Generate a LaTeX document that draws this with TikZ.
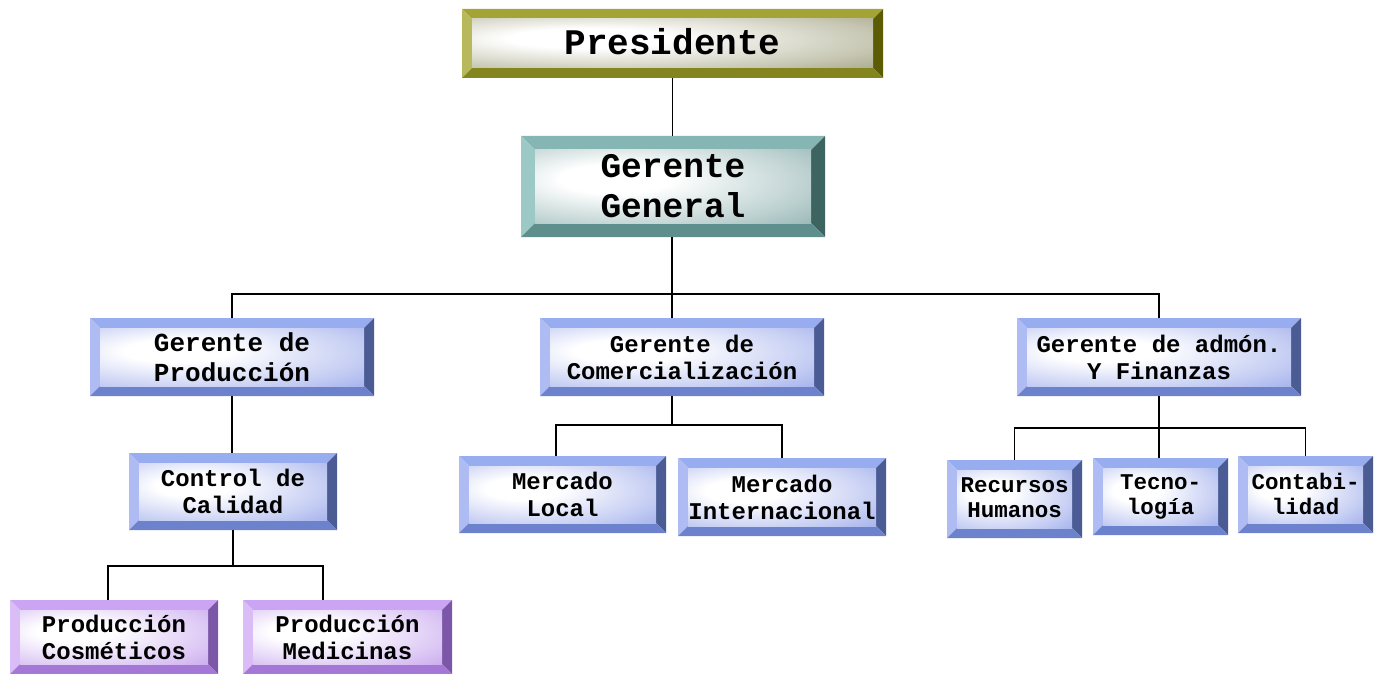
\documentclass[tikz,border=0pt]{standalone}
\usepackage{fontspec}
\setmonofont{Liberation Mono}
\usetikzlibrary{backgrounds}

% bevel colour families: T top, L left, R right, B bottom, G glow edge
\definecolor{oliveT}{HTML}{A3A336}
\definecolor{oliveL}{HTML}{B8B85C}
\definecolor{oliveR}{HTML}{5C5C05}
\definecolor{oliveB}{HTML}{85851F}
\definecolor{oliveG}{HTML}{85855A}
\definecolor{tealT}{HTML}{86B6B4}
\definecolor{tealL}{HTML}{9CC8C6}
\definecolor{tealR}{HTML}{3E6462}
\definecolor{tealB}{HTML}{5F8F8D}
\definecolor{tealG}{HTML}{6A9896}
\definecolor{blueT}{HTML}{98ACF0}
\definecolor{blueL}{HTML}{AEBCF3}
\definecolor{blueR}{HTML}{4B5B93}
\definecolor{blueB}{HTML}{6C82CC}
\definecolor{blueG}{HTML}{7D90E4}
\definecolor{lilaT}{HTML}{CBA5F3}
\definecolor{lilaL}{HTML}{DABDF6}
\definecolor{lilaR}{HTML}{7C57A8}
\definecolor{lilaB}{HTML}{A578D8}
\definecolor{lilaG}{HTML}{B386E8}
\colorlet{gc}{blueG}

\pgfdeclareradialshading[gc]{glow}{\pgfpoint{-12bp}{6bp}}{%
  color(0bp)=(white); color(10bp)=(white);
  color(32bp)=(gc!45!white); color(56bp)=(gc); color(80bp)=(gc)}

\tikzset{
  boxtext/.style={inner sep=0pt, align=center, font=\ttfamily\bfseries},
  fsz/.style 2 args={font=\ttfamily\bfseries\fontsize{#1}{#2}\selectfont},
  link/.style={draw=black, line width=1.6pt},
}

% #1 name, #2 x1, #3 y1, #4 x2, #5 y2, #6 colour family, #7 bevel, #8 font, #9 text
\newcommand\bevbox[9]{%
  \node[boxtext, #8, minimum width={(#4-#2)*1pt}, minimum height={(#5-#3)*1pt}]
    (#1) at ({(#2+#4)/2},{(#3+#5)/2}) {#9};
  \begin{pgfonlayer}{background}
    \colorlet{gc}{#6G}
    \fill[#6T] (#2,#3) -- (#4,#3) -- (#4-#7,#3+#7) -- (#2+#7,#3+#7) -- cycle;
    \fill[#6L] (#2,#3) -- (#2+#7,#3+#7) -- (#2+#7,#5-#7) -- (#2,#5) -- cycle;
    \fill[#6R] (#4,#3) -- (#4,#5) -- (#4-#7,#5-#7) -- (#4-#7,#3+#7) -- cycle;
    \fill[#6B] (#2,#5) -- (#2+#7,#5-#7) -- (#4-#7,#5-#7) -- (#4,#5) -- cycle;
    \shade[shading=glow] (#2+#7,#3+#7) rectangle (#4-#7,#5-#7);
  \end{pgfonlayer}
}

\begin{document}
\begin{tikzpicture}[x=1pt, y=-1pt]
\useasboundingbox (0,0) rectangle (1384,674);

\bevbox{pres}{462}{9}{883}{78}{olive}{10}{fsz={36}{40}}{\raisebox{4pt}{Presidente}}
\bevbox{gg}{521}{136}{825}{237}{teal}{14}{fsz={34.5}{40}}{Gerente\\General}

\bevbox{gp}{90}{318}{374}{396}{blue}{10}{fsz={26}{30}}{Gerente de\\Producción}
\bevbox{gc}{540}{318}{824}{396}{blue}{10}{fsz={24}{27}}{Gerente de\\Comercialización}
\bevbox{gf}{1017}{318}{1301}{396}{blue}{10}{fsz={24}{27}}{Gerente de admón.\\Y Finanzas}

\bevbox{cq}{129}{453}{337}{530}{blue}{10}{fsz={24}{27}}{Control de\\Calidad}
\bevbox{ml}{459}{456}{666}{533}{blue}{10}{fsz={24}{27}}{Mercado\\Local}
\bevbox{mi}{678}{458}{886}{536}{blue}{10}{fsz={24}{27}}{Mercado\\Internacional}
\bevbox{rh}{947}{460}{1082}{538}{blue}{10}{fsz={22.5}{25}}{\raisebox{3pt}{Recursos}\\\raisebox{3pt}{Humanos}}
\bevbox{tc}{1093}{458}{1228}{535}{blue}{10}{fsz={22.5}{25}}{Tecno-\\logía}
\bevbox{ct}{1238}{456}{1373}{533}{blue}{10}{fsz={22.5}{25}}{\raisebox{2pt}{Contabi-}\\\raisebox{2pt}{lidad}}

\bevbox{pc}{10}{600}{218}{674}{lila}{10}{fsz={24}{27}}{Producción\\Cosméticos}
\bevbox{pm}{243}{600}{452}{674}{lila}{10}{fsz={24}{27}}{Producción\\Medicinas}

% junction points of the branch lines
\coordinate (b0) at (672,294);
\coordinate (b2) at (233,566);
\coordinate (b3) at (672,425);
\coordinate (b4) at (1159,428);

\draw[link] (pres.south) -- (pres.south |- gg.north);
\draw[link] (gg.south -| b0) -- (b0);
\draw[link] (gp.north) |- (b0) -| (gf.north);
\draw[link] (b0) -- (b0 |- gc.north);

\draw[link] (gp.south) -- (gp.south |- cq.north);

\draw[link] (b2 |- cq.south) -- (b2);
\draw[link] (b2) -- (108,566) coordinate (b2l) -- (b2l |- pc.north);
\draw[link] (b2) -- (323,566) coordinate (b2r) -- (b2r |- pm.north);

\draw[link] (b3 |- gc.south) -- (b3);
\draw[link] (b3) -- (556,425) coordinate (b3l) -- (b3l |- ml.north);
\draw[link] (b3) -| (mi.north);

\draw[link] (gf.south) -- (b4);
\draw[link] (b4) -| (rh.north);
\draw[link] (b4) -| (ct.north);
\draw[link] (b4) -- (b4 |- tc.north);
\end{tikzpicture}
\end{document}
